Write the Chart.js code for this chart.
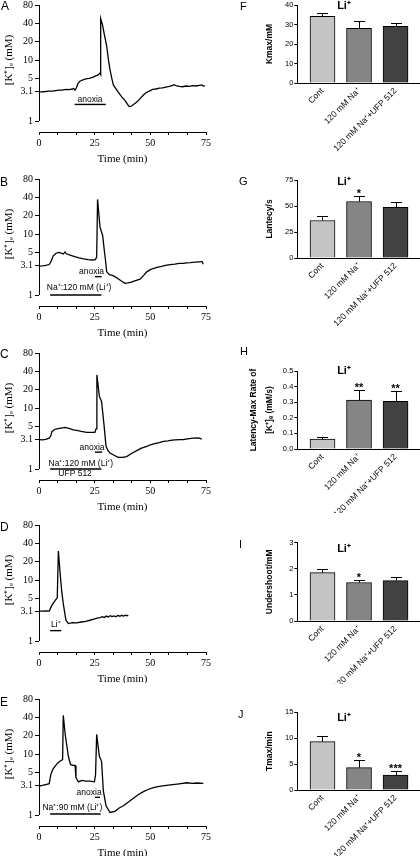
<!DOCTYPE html>
<html>
<head>
<meta charset="utf-8">
<script src="https://cdn.jsdelivr.net/npm/chart.js@4.4.0/dist/chart.umd.min.js"></script>
<style>
  html, body { margin: 0; padding: 0; background: #fff; }
  body { position: relative; width: 420px; height: 856px; overflow: hidden; }
  canvas { position: absolute; }
  .white { background: #fff; }
  .tag { position: absolute; font-family: "Liberation Sans", Arial, sans-serif; line-height: 1; color: #000; }
</style>
</head>
<body>
<canvas id="panelA"></canvas>
<canvas id="panelB"></canvas>
<canvas id="panelC"></canvas>
<canvas id="panelD"></canvas>
<canvas id="panelE" class="white"></canvas>
<canvas id="panelF"></canvas>
<canvas id="panelG"></canvas>
<canvas id="panelH"></canvas>
<canvas id="panelI" class="white"></canvas>
<canvas id="panelJ" class="white"></canvas>

<div class="tag" style="left:1px;top:0px;font-size:12px">A</div>
<div class="tag" style="left:0px;top:176px;font-size:12px">B</div>
<div class="tag" style="left:0px;top:348px;font-size:12px">C</div>
<div class="tag" style="left:0px;top:521px;font-size:12px">D</div>
<div class="tag" style="left:0px;top:696px;font-size:12px">E</div>
<div class="tag" style="left:240px;top:1px;font-size:11px">F</div>
<div class="tag" style="left:239px;top:176px;font-size:11px">G</div>
<div class="tag" style="left:240px;top:346px;font-size:11px">H</div>
<div class="tag" style="left:239px;top:539px;font-size:11px">I</div>
<div class="tag" style="left:238px;top:709px;font-size:11px">J</div>

<script>
// ---- trace panels (A-E): time (min) vs [K+]e (mM) ----
const xTickLabels = [0, 25, 50, 75];
const xMinorPerMajor = 3;
const kTicks = [1, 3.1, 5, 10, 20, 40, 80];

const tA = [0, 1.5, 3, 4.5, 6, 7.5, 9, 10.5, 12, 13.5, 15, 15.6, 16.2, 16.8, 17.5, 18.4, 19.5, 21, 22.5, 24,
  25.5, 26.5, 27.4, 27.6, 27.8, 28.5, 29.2, 30.4, 31.2, 31.9, 32.7, 33.4, 34.5, 35.5, 36.4, 37.5, 38.5, 39.5, 40.3, 41.2,
  42.3, 43.5, 44.5, 45.5, 46.8, 48, 49.5, 51, 52.5, 54, 55.5, 57, 58.5, 60, 60.5, 61.5, 63, 64.5, 66, 67.5,
  69, 70.5, 72, 73, 73.8, 74.5];
const kA = [3.0, 3.02, 3.05, 3.1, 3.08, 3.15, 3.2, 3.2, 3.3, 3.28, 3.35, 3.4, 3.2, 3.5, 4.1, 4.5, 4.7, 4.9, 5.0, 5.2,
  5.5, 5.7, 6.1, 5.8, 48, 38, 28, 17, 10, 6.9, 5.0, 3.9, 3.4, 3.0, 2.7, 2.4, 2.2, 1.95, 1.75, 1.72,
  1.85, 2.0, 2.15, 2.35, 2.65, 2.9, 3.1, 3.3, 3.35, 3.45, 3.5, 3.6, 3.7, 3.85, 3.95, 3.8, 3.7, 3.65, 3.75, 3.7,
  3.8, 3.75, 3.85, 3.9, 3.75, 3.8];

const tB = [0, 1.5, 3, 4.6, 5.5, 6.4, 7.5, 8.7, 10, 11, 11.7, 12.3, 14, 16, 18, 20, 22, 24, 25.3, 25.9,
  26.3, 27.4, 28.6, 29.3, 29.7, 30.4, 31.6, 33, 34.1, 35.5, 37, 38.6, 40, 41.5, 43, 45.4, 47, 48.4, 50, 51.3,
  53, 55, 57.3, 59, 61, 63, 65, 66.3, 68, 70, 71.5, 72.3, 73.2, 73.8];
const kB = [2.97, 3.0, 3.05, 3.16, 3.6, 4.4, 4.8, 5.0, 4.85, 4.7, 5.1, 4.75, 4.5, 4.25, 4.05, 3.9, 3.8, 3.75, 3.8, 4.2,
  37, 13, 9.4, 5.5, 4.2, 2.4, 2.15, 2.1, 2.0, 1.85, 1.7, 1.56, 1.58, 1.62, 1.7, 1.82, 2.1, 2.4, 2.6, 2.72,
  2.85, 2.95, 3.1, 3.15, 3.2, 3.3, 3.3, 3.37, 3.4, 3.45, 3.5, 3.5, 3.55, 3.2];

const tC = [0, 1.5, 3, 4.6, 5.3, 5.8, 7, 8.5, 10, 11.7, 13.5, 15.4, 17, 19, 21.4, 23, 25.1, 25.7, 26.0, 27.1,
  28.1, 29.2, 30.1, 31, 31.9, 33.5, 35.6, 37.5, 39.4, 41.5, 43.9, 46, 48.4, 50, 52, 54, 55.9, 58, 59, 61,
  63.3, 65, 66, 67.5, 69.3, 71, 72, 73.1];
const kC = [3.03, 3.0, 3.05, 3.2, 3.5, 4.1, 4.45, 4.6, 4.7, 4.8, 4.65, 4.4, 4.3, 4.15, 4.0, 4.0, 4.0, 4.6, 35, 15.5,
  12.8, 5.3, 2.35, 2.0, 1.83, 1.7, 1.55, 1.55, 1.6, 1.8, 2.0, 2.2, 2.35, 2.5, 2.6, 2.7, 2.84, 2.9, 2.95, 3.0,
  3.03, 3.05, 3.1, 3.15, 3.2, 3.25, 3.2, 3.1];

const tD = [0, 1.5, 3, 4.6, 5.7, 7.2, 8.2, 8.7, 9.4, 10.2, 10.9, 12.1, 13.2, 15, 16.9, 19, 21, 22.9, 25, 26.5,
  27.4, 28.5, 29.3, 30.2, 31, 32, 32.8, 33.7, 34.5, 35.4, 36.3, 37.1, 38, 38.8, 39.5, 40.1];
const kD = [3.1, 3.08, 3.12, 3.1, 3.8, 4.6, 5.1, 30, 14.2, 6.5, 4.1, 2.19, 1.93, 2.0, 1.98, 2.05, 2.1, 2.19, 2.3, 2.4,
  2.42, 2.5, 2.42, 2.56, 2.48, 2.6, 2.52, 2.58, 2.5, 2.63, 2.55, 2.64, 2.57, 2.66, 2.6, 2.64];

const tE = [0, 1.5, 3, 4.6, 5.3, 6.2, 7.2, 8.3, 9.4, 10.6, 10.9, 11.8, 13.2, 14.2, 15.2, 16.2, 16.6, 17.7, 19.2, 21,
  22.9, 24.9, 25.4, 25.9, 27.1, 28.1, 28.9, 30.1, 31.9, 34.1, 36, 37.9, 40, 42.4, 44.5, 46.9, 49, 51.4, 54, 57.3,
  60, 63, 66.3, 69, 71, 73.8];
const kE = [2.99, 3.05, 3.15, 3.26, 4.6, 5.6, 6.3, 7.1, 7.6, 8.1, 43, 20.5, 9.1, 6.7, 6.5, 6.5, 4.1, 3.5, 3.7, 3.6,
  3.6, 3.5, 4.6, 21, 9.2, 7.6, 2.48, 1.42, 1.1, 1.15, 1.3, 1.42, 1.62, 1.89, 2.15, 2.42, 2.62, 2.81, 2.95, 3.06,
  3.15, 3.25, 3.38, 3.3, 3.35, 3.3];

// treatment periods (min)
const anoxiaA = [16, 30];
const anoxiaB = [25.1, 28.1];
const naB = [5, 28];
const anoxiaC = [25.1, 28.4];
const naC = [5, 28];
const liD = [5, 10];
const anoxiaE = [25.1, 27.4];
const naE = [5, 27.7];

// ---- bar panels (F-J) ----
const groups = ["Cont", "120 mM Na\u207A", "120 mM Na\u207A+UFP 512"];
const barColors = ["#c4c4c4", "#858585", "#424242"];

const kmaxMean = [34.2, 28.1, 29.0];
const kmaxSem = [1.7, 3.8, 2.0];
const kmaxSig = ["", "", ""];
const kmaxTicks = [0, 10, 20, 30, 40];

const latMean = [36.1, 54.3, 48.8];
const latSem = [4.1, 5.7, 5.5];
const latSig = ["", "*", ""];
const latTicks = [0, 25, 50, 75];

const rateMean = [0.064, 0.313, 0.306];
const rateSem = [0.01, 0.068, 0.064];
const rateSig = ["", "**", "**"];
const rateTicks = [0, 0.1, 0.2, 0.3, 0.4, 0.5];

const underMean = [1.855, 1.474, 1.55];
const underSem = [0.14, 0.1, 0.13];
const underSig = ["", "*", ""];
const underTicks = [0, 1, 2, 3];

const tmaxMean = [9.34, 4.32, 2.86];
const tmaxSem = [1.02, 1.53, 0.83];
const tmaxSig = ["", "*", "***"];
const tmaxTicks = [0, 5, 10, 15];

const SERIF = '"Liberation Serif", "Times New Roman", serif';
const SANS = '"Liberation Sans", Arial, sans-serif';

function place(id, left, top, w, h) {
  const c = document.getElementById(id);
  c.width = w;
  c.height = h;
  c.style.left = left + "px";
  c.style.top = top + "px";
  return c;
}

function minorTimeTicks() {
  const out = [];
  for (let i = 0; i < xTickLabels.length - 1; i++) {
    const step = (xTickLabels[i + 1] - xTickLabels[i]) / xMinorPerMajor;
    for (let j = 0; j < xMinorPerMajor; j++) out.push(xTickLabels[i] + j * step);
  }
  out.push(xTickLabels[xTickLabels.length - 1]);
  return out;
}

// y axis line (80 -> 1, detached from the time axis), labels and y title
function traceDecor(labels) {
  return {
    id: "traceDecor",
    afterDraw(chart) {
      const { ctx, chartArea, scales } = chart;
      const x = scales.x, y = scales.y;
      ctx.save();
      const ax = Math.round(chartArea.left) + 0.5;
      ctx.strokeStyle = "#000";
      ctx.lineWidth = 1;
      ctx.beginPath();
      ctx.moveTo(ax, y.getPixelForValue(kTicks[kTicks.length - 1]));
      ctx.lineTo(ax, y.getPixelForValue(kTicks[0]));
      ctx.stroke();

      ctx.fillStyle = "#000";
      ctx.font = "8.5px " + SANS;
      ctx.textAlign = "center";
      ctx.textBaseline = "middle";
      labels.forEach((l) => {
        ctx.fillText(l.text, x.getPixelForValue(l.t), y.getPixelForValue(l.v));
      });

      ctx.translate(9, chartArea.top + 55);
      ctx.rotate(-Math.PI / 2);
      ctx.font = "11px " + SERIF;
      ctx.fillText("[K\u207A]\u2091 (mM)", 0, 0);
      ctx.restore();
    },
  };
}

function traceChart(id, top, padTop, times, values, ann) {
  const AREA_H = 127, XAXIS_H = 40;
  const canvas = place(id, 0, top, 214, padTop + AREA_H + XAXIS_H);
  const datasets = [
    {
      data: times.map((t, i) => ({ x: t, y: values[i] })),
      borderColor: "#000",
      borderWidth: 1.3,
      pointRadius: 0,
      tension: 0,
    },
  ];
  ann.bars.forEach((b) => {
    datasets.push({
      data: [{ x: b.range[0], y: b.v }, { x: b.range[1], y: b.v }],
      borderColor: "#000",
      borderWidth: 1.4,
      pointRadius: 0,
    });
  });
  return new Chart(canvas, {
    type: "line",
    data: { datasets },
    options: {
      responsive: false,
      animation: false,
      devicePixelRatio: 1,
      layout: { padding: { top: padTop, right: 8, left: 0, bottom: 0 } },
      plugins: { legend: { display: false }, tooltip: { enabled: false } },
      scales: {
        x: {
          type: "linear",
          min: 0,
          max: 75,
          afterBuildTicks: (s) => { s.ticks = minorTimeTicks().map((v) => ({ value: v })); },
          afterFit: (s) => { s.height = XAXIS_H; },
          grid: { display: true, drawOnChartArea: false, tickLength: 3, color: "#000" },
          border: { display: true, color: "#000", width: 1 },
          ticks: {
            color: "#000",
            font: { family: SERIF, size: 10 },
            padding: 2,
            maxRotation: 0,
            autoSkip: false,
            callback: (v) => {
              const lbl = xTickLabels.find((l) => Math.abs(l - v) < 0.01);
              return lbl === undefined ? "" : String(lbl);
            },
          },
          title: {
            display: true,
            text: "Time (min)",
            color: "#000",
            font: { family: SERIF, size: 11 },
            padding: { top: 0, bottom: 6.4 },
          },
        },
        y: {
          type: "logarithmic",
          min: 0.66,
          max: 80,
          afterBuildTicks: (s) => { s.ticks = kTicks.map((v) => ({ value: v })); },
          afterFit: (s) => { s.width = 39; },
          grid: { display: true, drawOnChartArea: false, tickLength: 4, color: "#000" },
          border: { display: false },
          ticks: {
            color: "#000",
            font: { family: SERIF, size: 10 },
            padding: 2,
            autoSkip: false,
            callback: (v) => String(v),
          },
        },
      },
    },
    plugins: [traceDecor(ann.labels)],
  });
}

// error bars, significance marks and the Li+ heading
const barDecor = {
  id: "barDecor",
  afterDatasetsDraw(chart) {
    const { ctx, chartArea, scales } = chart;
    const y = scales.y, x = scales.x;
    const ds = chart.data.datasets[0];
    const meta = chart.getDatasetMeta(0);
    ctx.save();
    ctx.strokeStyle = "#000";
    ctx.fillStyle = "#000";
    ctx.lineWidth = 1;
    meta.data.forEach((bar, i) => {
      const topPx = Math.round(y.getPixelForValue(ds.means[i] + ds.sems[i])) + 0.5;
      const cx = Math.round(bar.x) + 0.5;
      ctx.beginPath();
      ctx.moveTo(cx, bar.y);
      ctx.lineTo(cx, topPx);
      ctx.moveTo(cx - 5.5, topPx);
      ctx.lineTo(cx + 5.5, topPx);
      ctx.stroke();
      if (ds.marks[i]) {
        ctx.font = "bold 11px " + SANS;
        ctx.textAlign = "center";
        ctx.textBaseline = "alphabetic";
        ctx.fillText(ds.marks[i], bar.x, topPx + 0.5);
      }
    });
    ctx.font = "bold 11px " + SANS;
    ctx.textAlign = "center";
    ctx.textBaseline = "middle";
    ctx.fillText("Li\u207A", x.getPixelForValue(0.59), chartArea.top + ds.headDy);
    ctx.restore();
  },
};

function barChart(id, top, padTop, means, sems, marks, yTicks, cfg) {
  const AREA_H = 78.5, XAXIS_H = 75;
  const canvas = place(id, 220, top, 200, padTop + AREA_H + XAXIS_H);
  return new Chart(canvas, {
    type: "bar",
    data: {
      datasets: [
        {
          data: groups.map((g, i) => ({ x: i, y: means[i] })),
          means: means,
          sems: sems,
          marks: marks,
          headDy: cfg.headDy,
          backgroundColor: barColors,
          borderColor: "#000",
          borderWidth: 1,
          barThickness: 25,
        },
      ],
    },
    options: {
      responsive: false,
      animation: false,
      devicePixelRatio: 1,
      layout: { padding: { top: padTop, right: 0, left: 0, bottom: 0 } },
      plugins: { legend: { display: false }, tooltip: { enabled: false } },
      scales: {
        x: {
          type: "linear",
          min: -0.69,
          max: 2.67,
          offset: false,
          afterBuildTicks: (s) => { s.ticks = groups.map((g, i) => ({ value: i })); },
          afterFit: (s) => { s.height = XAXIS_H; },
          grid: { display: false, drawTicks: false, offset: false },
          border: { display: true, color: "#000", width: 1 },
          ticks: {
            color: "#000",
            font: { family: SANS, size: 8.5 },
            padding: 3,
            minRotation: 45,
            maxRotation: 45,
            autoSkip: false,
            callback: (v) => (groups[v] !== undefined ? groups[v] : ""),
          },
        },
        y: {
          min: yTicks[0],
          max: yTicks[yTicks.length - 1],
          afterBuildTicks: (s) => { s.ticks = yTicks.map((v) => ({ value: v })); },
          afterFit: (s) => { s.width = 77.3; },
          grid: { display: true, drawOnChartArea: false, tickLength: 3, color: "#000" },
          border: { display: true, color: "#000", width: 1 },
          ticks: {
            color: "#000",
            font: { family: SANS, size: 7.5 },
            padding: 1,
            autoSkip: false,
            callback: (v) => v.toFixed(cfg.decimals),
          },
          title: {
            display: true,
            text: cfg.title,
            color: "#000",
            font: { family: SANS, size: cfg.titleSize, weight: "bold", lineHeight: cfg.lineHeight },
            padding: { top: cfg.titlePad, bottom: 0 },
          },
        },
      },
    },
    plugins: [barDecor],
  });
}

traceChart("panelA", -15.3, 20, tA, kA, {
  labels: [{ text: "anoxia", t: 22.9, v: 2.26 }],
  bars: [{ range: anoxiaA, v: 1.87 }],
});
traceChart("panelB", 159.3, 20, tB, kB, {
  labels: [
    { text: "anoxia", t: 23.6, v: 2.41 },
    { text: "Na\u207A:120 mM (Li\u207A)", t: 18, v: 1.32 },
  ],
  bars: [{ range: anoxiaB, v: 2.0 }, { range: naB, v: 1.0 }],
});
traceChart("panelC", 332.7, 20, tC, kC, {
  labels: [
    { text: "anoxia", t: 23.8, v: 2.23 },
    { text: "Na\u207A:120 mM (Li\u207A)", t: 18.8, v: 1.21 },
    { text: "UFP 512", t: 16.2, v: 0.84 },
  ],
  bars: [{ range: anoxiaC, v: 1.89 }, { range: naC, v: 1.0 }],
});
traceChart("panelD", 505, 20, tD, kD, {
  labels: [{ text: "Li\u207A", t: 7.5, v: 1.83 }],
  bars: [{ range: liD, v: 1.48 }],
});
traceChart("panelE", 683, 16, tE, kE, {
  labels: [
    { text: "anoxia", t: 22.5, v: 2.31 },
    { text: "Na\u207A:90 mM (Li\u207A)", t: 15, v: 1.3 },
  ],
  bars: [{ range: anoxiaE, v: 1.95 }, { range: naE, v: 1.04 }],
});

const single = { titleSize: 8.5, lineHeight: 1.2, titlePad: 44.6 };
barChart("panelF", -15.3, 20, kmaxMean, kmaxSem, kmaxSig, kmaxTicks,
  Object.assign({}, single, { title: "Kmax/mM", decimals: 0, headDy: 1 }));
barChart("panelG", 160, 20, latMean, latSem, latSig, latTicks,
  Object.assign({}, single, { title: "Lantecy/s", decimals: 0, headDy: 2 }));
barChart("panelH", 350.7, 20, rateMean, rateSem, rateSig, rateTicks,
  { title: ["Latency-Max Rate of", "[K\u207A]\u2091 (mM/s)"], titleSize: 8.5, lineHeight: 1.96, titlePad: 25, decimals: 1, headDy: 0 });
barChart("panelI", 513, 29.7, underMean, underSem, underSig, underTicks,
  Object.assign({}, single, { title: "Undershoot/mM", decimals: 0, headDy: 6 }));
barChart("panelJ", 684, 28.3, tmaxMean, tmaxSem, tmaxSig, tmaxTicks,
  Object.assign({}, single, { title: "Tmax/min", decimals: 0, headDy: 6 }));
</script>
</body>
</html>
